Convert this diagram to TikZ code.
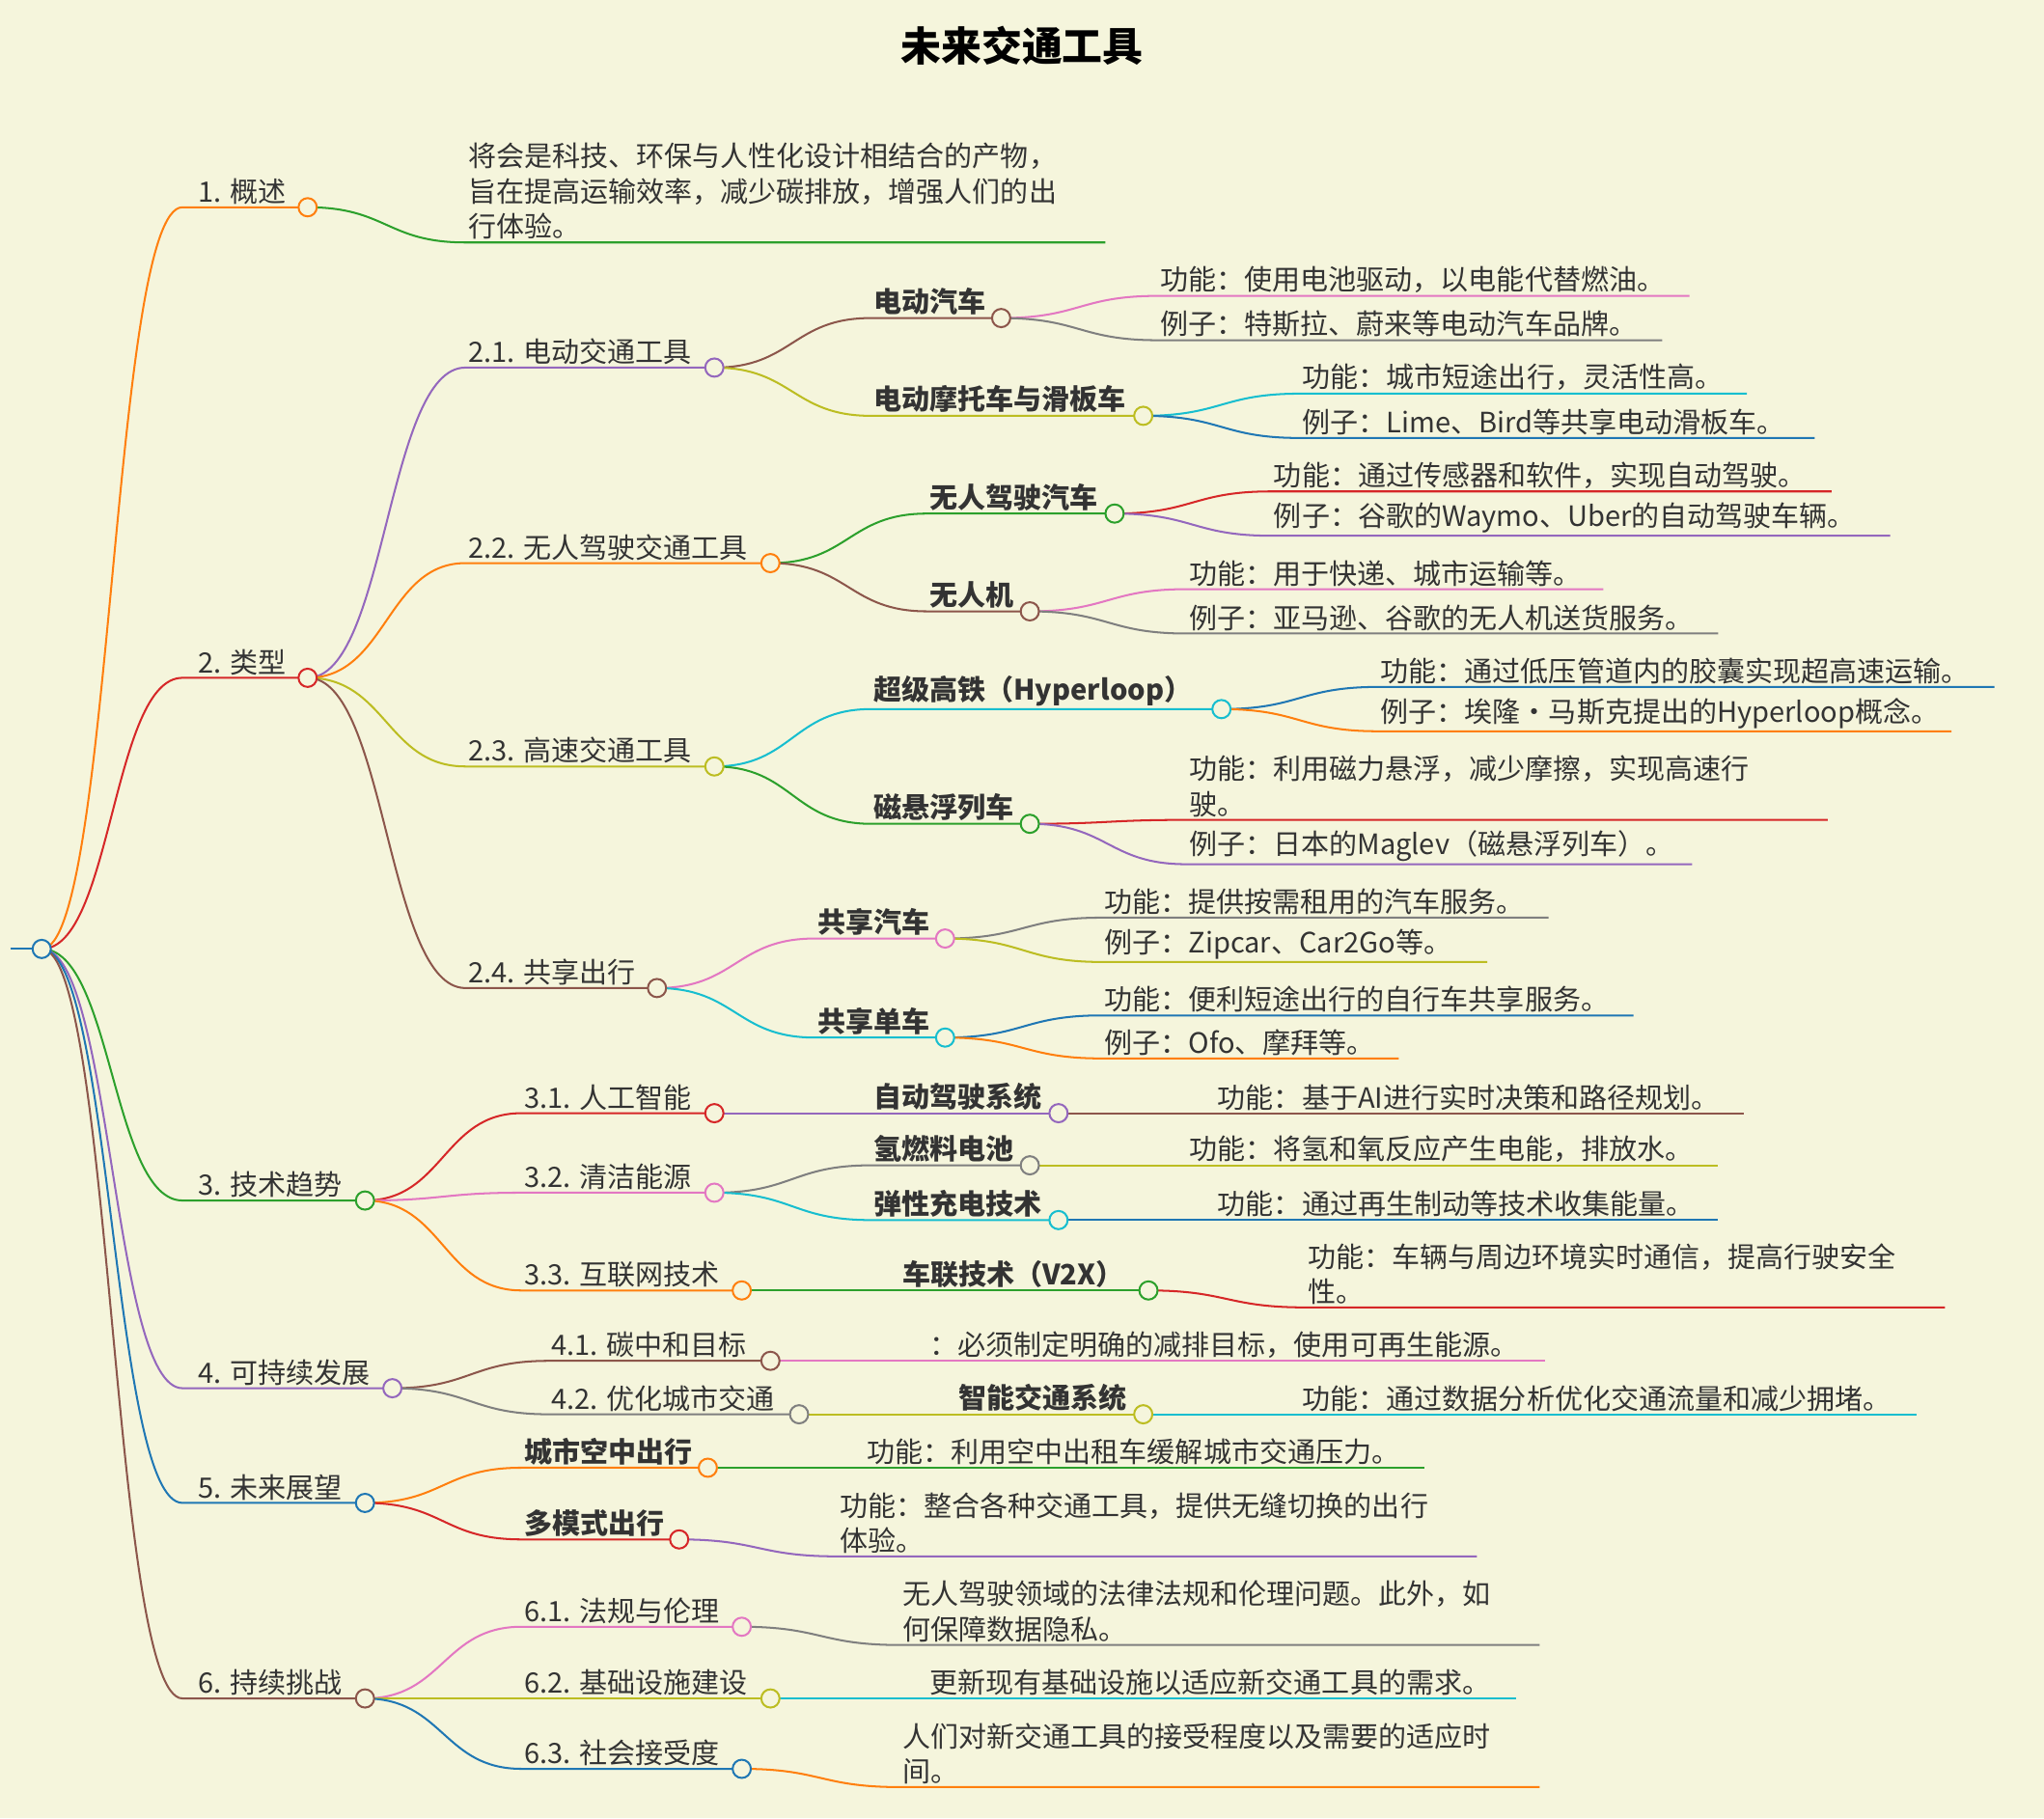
\documentclass[tikz,border=0pt]{standalone}
\usepackage{fontspec}
\setmainfont{Noto Sans CJK SC}
\usetikzlibrary{calc}
\definecolor{bgc}{HTML}{F5F5DC}
\definecolor{cblue}{HTML}{1F77B4}
\definecolor{corange}{HTML}{FF7F0E}
\definecolor{cgreen}{HTML}{2CA02C}
\definecolor{cred}{HTML}{D62728}
\definecolor{cpurple}{HTML}{9467BD}
\definecolor{cbrown}{HTML}{8C564B}
\definecolor{cpink}{HTML}{E377C2}
\definecolor{cgray}{HTML}{7F7F7F}
\definecolor{colive}{HTML}{BCBD22}
\definecolor{ccyan}{HTML}{17BECF}
\tikzset{
	link/.style={line width=1.5pt},
	lbl/.style={font=\fontsize{21.5}{27}\selectfont, text=black!80, align=left, inner sep=2pt, anchor=south west},
	knot/.style={circle, fill=bgc, line width=1.5pt, minimum size=14pt, inner sep=0pt}
}
% name, parent, x start, x end, y, colour, text
\newcommand{\mmnode}[7]{%
	\coordinate (#1s) at (#3,#5);
	\coordinate (#1e) at (#4,#5);
	\coordinate (#1m) at ($(#2e)!0.5!(#1s)$);
	\draw[link,#6] (#2e) .. controls (#1m |- #2e) and (#1m |- #1s) .. (#1s) -- (#1e);
	\node[lbl] (#1t) at (#1s) {#7};
}
\begin{document}
\begin{tikzpicture}[x=1pt, y=-1pt]
	\fill[bgc] (0,0) rectangle (1568,1395);
	\useasboundingbox (0,0) rectangle (1568,1395);
	\node[font=\fontsize{31}{34}\selectfont\bfseries] (title) at (784,35) {未来交通工具};
	
	% --- root ---
	\coordinate (roots) at (8,728);
	\coordinate (roote) at (32,728);
	\draw[link,cblue] (roots) -- (roote);
	
	% --- 1 ---
	\mmnode{a}{root}{140}{236}{159}{corange}{\hspace*{10pt}1. 概述}
	\mmnode{aa}{a}{357}{848}{186}{cgreen}{将会是科技、环保与人性化设计相结合的产物，\\旨在提高运输效率，减少碳排放，增强人们的出\\行体验。}
	
	% --- 2 ---
	\mmnode{b}{root}{140}{236}{520}{cred}{\hspace*{10pt}2. 类型}
	\mmnode{ba}{b}{357}{548}{282}{cpurple}{2.1. 电动交通工具}
	\mmnode{baa}{ba}{668}{768}{244}{cbrown}{\bfseries 电动汽车}
	\mmnode{baaa}{baa}{888}{1296}{227}{cpink}{功能：使用电池驱动，以电能代替燃油。}
	\mmnode{baab}{baa}{888}{1275}{261}{cgray}{例子：特斯拉、蔚来等电动汽车品牌。}
	\mmnode{bab}{ba}{668}{877}{319}{colive}{\bfseries 电动摩托车与滑板车}
	\mmnode{baba}{bab}{997}{1340}{302}{ccyan}{功能：城市短途出行，灵活性高。}
	\mmnode{babb}{bab}{997}{1392}{336}{cblue}{例子：Lime、Bird等共享电动滑板车。}
	\mmnode{bb}{b}{357}{591}{432}{corange}{2.2. 无人驾驶交通工具}
	\mmnode{bba}{bb}{711}{855}{394}{cgreen}{\bfseries 无人驾驶汽车}
	\mmnode{bbaa}{bba}{975}{1405}{377}{cred}{功能：通过传感器和软件，实现自动驾驶。}
	\mmnode{bbab}{bba}{975}{1450}{411}{cpurple}{例子：谷歌的Waymo、Uber的自动驾驶车辆。}
	\mmnode{bbb}{bb}{711}{790}{469}{cbrown}{\bfseries 无人机}
	\mmnode{bbba}{bbb}{910}{1230}{452}{cpink}{功能：用于快递、城市运输等。}
	\mmnode{bbbb}{bbb}{910}{1318}{486}{cgray}{例子：亚马逊、谷歌的无人机送货服务。}
	\mmnode{bc}{b}{357}{548}{588}{colive}{2.3. 高速交通工具}
	\mmnode{bca}{bc}{668}{937}{544}{ccyan}{\bfseries 超级高铁（Hyperloop）}
	\mmnode{bcaa}{bca}{1057}{1530}{527}{cblue}{功能：通过低压管道内的胶囊实现超高速运输。}
	\mmnode{bcab}{bca}{1057}{1497}{561}{corange}{例子：埃隆·马斯克提出的Hyperloop概念。}
	\mmnode{bcb}{bc}{668}{790}{632}{cgreen}{\bfseries 磁悬浮列车}
	\mmnode{bcba}{bcb}{910}{1402}{629}{cred}{功能：利用磁力悬浮，减少摩擦，实现高速行\\驶。}
	\mmnode{bcbb}{bcb}{910}{1298}{663}{cpurple}{例子：日本的Maglev（磁悬浮列车）。}
	\mmnode{bd}{b}{357}{504}{758}{cbrown}{2.4. 共享出行}
	\mmnode{bda}{bd}{625}{725}{720}{cpink}{\bfseries 共享汽车}
	\mmnode{bdaa}{bda}{845}{1188}{704}{cgray}{功能：提供按需租用的汽车服务。}
	\mmnode{bdab}{bda}{845}{1141}{738}{colive}{例子：Zipcar、Car2Go等。}
	\mmnode{bdb}{bd}{625}{725}{796}{ccyan}{\bfseries 共享单车}
	\mmnode{bdba}{bdb}{845}{1253}{779}{cblue}{功能：便利短途出行的自行车共享服务。}
	\mmnode{bdbb}{bdb}{845}{1073}{812}{corange}{例子：Ofo、摩拜等。}
	
	% --- 3 ---
	\mmnode{c}{root}{140}{280}{921}{cgreen}{\hspace*{10pt}3. 技术趋势}
	\mmnode{ca}{c}{400}{548}{854}{cred}{3.1. 人工智能}
	\mmnode{caa}{ca}{668}{812}{854}{cpurple}{\bfseries 自动驾驶系统}
	\mmnode{caaa}{caa}{932}{1338}{854}{cbrown}{功能：基于AI进行实时决策和路径规划。}
	\mmnode{cb}{c}{400}{548}{915}{cpink}{3.2. 清洁能源}
	\mmnode{cba}{cb}{668}{790}{894}{cgray}{\bfseries 氢燃料电池}
	\mmnode{cbaa}{cba}{910}{1318}{894}{colive}{功能：将氢和氧反应产生电能，排放水。}
	\mmnode{cbb}{cb}{668}{812}{936}{ccyan}{\bfseries 弹性充电技术}
	\mmnode{cbba}{cbb}{932}{1318}{936}{cblue}{功能：通过再生制动等技术收集能量。}
	\mmnode{cc}{c}{400}{569}{990}{corange}{3.3. 互联网技术}
	\mmnode{cca}{cc}{690}{881}{990}{cgreen}{\bfseries 车联技术（V2X）}
	\mmnode{ccaa}{cca}{1001}{1492}{1003}{cred}{功能：车辆与周边环境实时通信，提高行驶安全\\性。}
	
	% --- 4 ---
	\mmnode{d}{root}{140}{301}{1065}{cpurple}{\hspace*{10pt}4. 可持续发展}
	\mmnode{da}{d}{421}{591}{1044}{cbrown}{4.1. 碳中和目标}
	\mmnode{daa}{da}{711}{1185}{1044}{cpink}{：必须制定明确的减排目标，使用可再生能源。}
	\mmnode{db}{d}{421}{613}{1085}{cgray}{4.2. 优化城市交通}
	\mmnode{dba}{db}{733}{877}{1085}{colive}{\bfseries 智能交通系统}
	\mmnode{dbaa}{dba}{997}{1470}{1085}{ccyan}{功能：通过数据分析优化交通流量和减少拥堵。}
	
	% --- 5 ---
	\mmnode{e}{root}{140}{280}{1153}{cblue}{\hspace*{10pt}5. 未来展望}
	\mmnode{ea}{e}{400}{543}{1126}{corange}{\bfseries 城市空中出行}
	\mmnode{eaa}{ea}{663}{1093}{1126}{cgreen}{功能：利用空中出租车缓解城市交通压力。}
	\mmnode{eb}{e}{400}{521}{1181}{cred}{\bfseries 多模式出行}
	\mmnode{eba}{eb}{642}{1133}{1194}{cpurple}{功能：整合各种交通工具，提供无缝切换的出行\\体验。}
	
	% --- 6 ---
	\mmnode{f}{root}{140}{280}{1303}{cbrown}{\hspace*{10pt}6. 持续挑战}
	\mmnode{fa}{f}{400}{569}{1248}{cpink}{6.1. 法规与伦理}
	\mmnode{faa}{fa}{690}{1181}{1262}{cgray}{无人驾驶领域的法律法规和伦理问题。此外，如\\何保障数据隐私。}
	\mmnode{fb}{f}{400}{591}{1303}{colive}{6.2. 基础设施建设}
	\mmnode{fba}{fb}{711}{1163}{1303}{ccyan}{更新现有基础设施以适应新交通工具的需求。}
	\mmnode{fc}{f}{400}{569}{1357}{cblue}{6.3. 社会接受度}
	\mmnode{fca}{fc}{690}{1181}{1371}{corange}{人们对新交通工具的接受程度以及需要的适应时\\间。}
	
	% knots on top
	\foreach \n/\c in {root/cblue, a/corange, b/cred, ba/cpurple, baa/cbrown, bab/colive,
		bb/corange, bba/cgreen, bbb/cbrown, bc/colive, bca/ccyan, bcb/cgreen,
		bd/cbrown, bda/cpink, bdb/ccyan, c/cgreen, ca/cred, caa/cpurple, cb/cpink,
		cba/cgray, cbb/ccyan, cc/corange, cca/cgreen, d/cpurple, da/cbrown, db/cgray,
		dba/colive, e/cblue, ea/corange, eb/cred, f/cbrown, fa/cpink, fb/colive, fc/cblue}
		\node[knot, draw=\c] at (\n e) {};
\end{tikzpicture}
\end{document}
